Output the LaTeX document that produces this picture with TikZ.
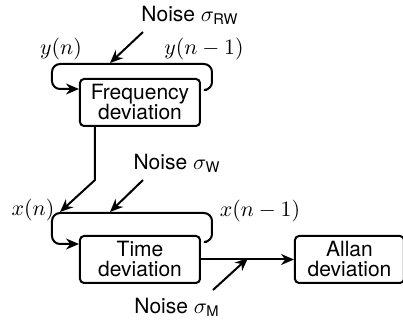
\documentclass[tikz,border=0pt]{standalone}
\usepackage{amsmath}
\usepackage{fontspec}
\setmainfont{TeX Gyre Heros}
\usepackage{tikz}
\usetikzlibrary{arrows.meta, positioning}

\begin{document}
\begin{tikzpicture}[
    x=0.5pt, y=-0.5pt,
    >={Stealth[length=6.5pt, width=5.5pt]},
    box/.style={rectangle, draw, line width=1pt, rounded corners=2pt,
                minimum width=60pt, minimum height=23.5pt, text centered,
                align=center, inner sep=1pt, font=\fontsize{10.5}{10}\selectfont},
    flow/.style={->, line width=1pt},
    loopline/.style={flow, rounded corners=4pt},
    lbl/.style={inner sep=0pt, font=\fontsize{10.5}{12}\selectfont},
    mlbl/.style={inner sep=0pt, font=\fontsize{11}{12}\selectfont}
]
    \useasboundingbox (0,0) rectangle (403,325);

    % Blocks
    \node[box] (freq) at (140,102.5) {Frequency\\deviation};
    \node[box, below=54pt of freq] (time) {Time\\deviation};
    \node[box, minimum width=54.5pt, right=46.5pt of time] (allan) {Allan\\deviation};

    % Frequency loop
    \coordinate (fr) at (212,64);
    \coordinate (fl) at (52,64);
    \coordinate (fin) at ([yshift=-5.5pt]freq.north west);
    \draw[loopline] ([shift={(3pt,-6pt)}]freq.north east) -| (fr) -| (fin -| fl) -- (fin);
    \node[mlbl] (yn) at (61,49) {$y(n)$};
    \node[mlbl] (yn1) at (204,49) {$y(n-1)$};

    % Time loop
    \coordinate (tr) at (212,213);
    \coordinate (tl) at (52,213);
    \coordinate (tin) at ([yshift=-4.5pt]time.north west);
    \draw[loopline] ([shift={(3pt,-3.5pt)}]time.north east) -| (tr) -| (tin -| tl) -- (tin);
    \node[mlbl] (xn) at (33,210) {$x(n)$};
    \node[mlbl] (xn1) at (260,211) {$x(n-1)$};

    % Frequency to time
    \coordinate (xin) at (60,212);
    \draw[flow] (freq.south -| 95,0) -- (95,180) -- (xin);

    % Output
    \draw[flow] (time) -- (allan);

    % Noise sources
    \node[lbl] (nrw) at (190,15) {Noise $\sigma_{\text{RW}}$};
    \coordinate (rwtail) at (143,32);
    \coordinate (rwin) at (110,63);
    \draw[flow] (rwtail) -- (rwin);

    \node[lbl] (nw) at (177,163) {Noise $\sigma_{\text{W}}$};
    \coordinate (wtail) at (143,180);
    \coordinate (win) at (110,212);
    \draw[flow] (wtail) -- (win);

    \node[lbl] (nm) at (177,307) {Noise $\sigma_{\text{M}}$};
    \coordinate (mtail) at (213,290);
    \coordinate (min) at (248,258);
    \draw[flow] (mtail) -- (min);

\end{tikzpicture}
\end{document}
